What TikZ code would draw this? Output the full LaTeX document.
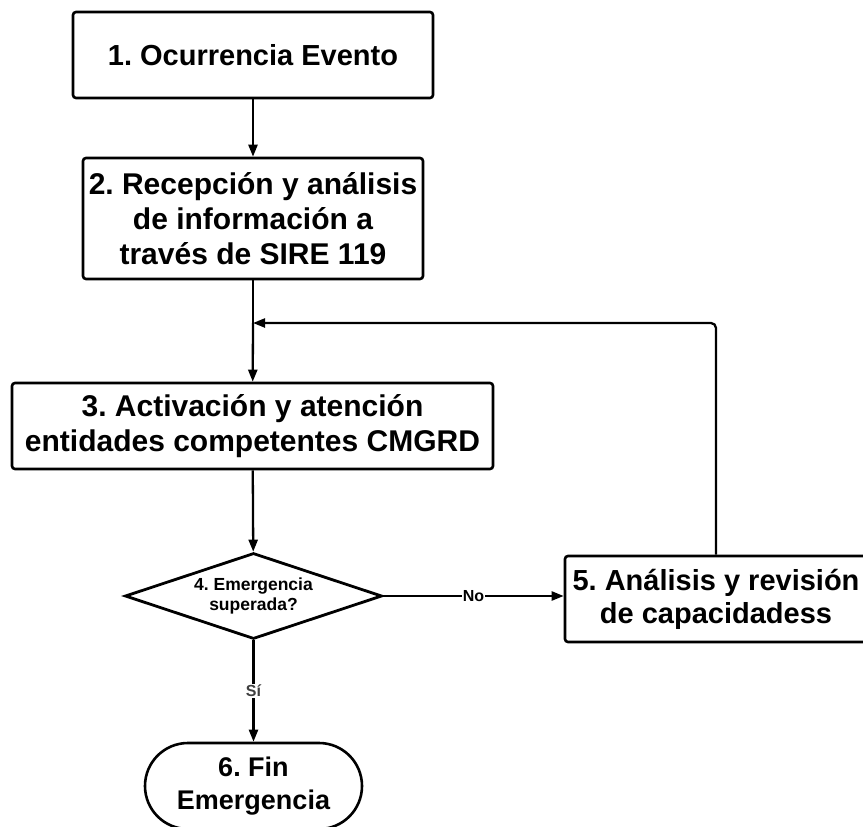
\documentclass[tikz,border=0pt]{standalone}
\usepackage{fontspec}
\setmainfont{Liberation Sans}
\usetikzlibrary{arrows.meta}
\usetikzlibrary{shapes.geometric}
\usetikzlibrary{shapes.misc}
\frenchspacing
\newcommand{\boxtxt}{\fontsize{30}{35}\selectfont\bfseries}
\newcommand{\midtxt}{\fontsize{29}{33}\selectfont\bfseries}
\newcommand{\fintxt}{\fontsize{27}{33}\selectfont\bfseries}
\newcommand{\asktxt}{\fontsize{17.5}{20}\selectfont\bfseries}
\newcommand{\lbltxt}{\fontsize{16}{18}\selectfont\bfseries}
\tikzstyle{proc} = [draw=black, line width=2.6pt, rounded corners=3pt, align=center, inner sep=0pt, font=\boxtxt]
\tikzstyle{decision} = [draw=black, diamond, aspect=3, line width=2.8pt, align=center, inner sep=0pt, font=\asktxt]
\tikzstyle{terminal} = [draw=black, rounded rectangle, line width=2.6pt, align=center, inner sep=0pt, font=\fintxt]
\tikzstyle{flow} = [line width=2.3pt, -{Triangle[length=12pt,width=9pt]}]
\tikzstyle{lbl} = [fill=white, inner sep=1pt, font=\lbltxt]

\begin{document}
\begin{tikzpicture}[x=1pt, y=-1pt]

		\useasboundingbox (0,0) rectangle (863,827);

		\node (ocu) [proc, font=\midtxt, minimum width=360, minimum height=86] at (253,55) {1. Ocurrencia Evento};

		\node (rec) [proc, minimum width=340, minimum height=121] at (253,218.5) {2. Recepción y análisis\\de información a\\través de SIRE 119};

		\node (act) [proc, minimum width=481, minimum height=86] at (252.5,426) {3. Activación y atención\\entidades competentes CMGRD};

		\node (dec) [decision, minimum width=257, minimum height=86] at (253.5,596) {4. Emergencia\\superada?};

		\node (rev) [proc, font=\midtxt, minimum width=302, minimum height=86] at (716,599) {5. Análisis y revisión\\de capacidadess};

		\node (fin) [terminal, minimum width=217, minimum height=86] at (253.5,786) {6. Fin\\Emergencia};

		\coordinate (loopin) at (253,323);

		\draw [flow] (ocu) -- (rec);
		\draw [line width=2.3pt] (rec) -- (loopin);
		\draw [flow] (loopin) -- (act);
		\draw [flow, rounded corners=5pt] (rev.north) |- (loopin);
		\draw [flow] (act) -- (dec);
		\draw [flow] (dec.east) -- node [lbl] {No} (dec.east -| rev.west);
		\draw [flow] (dec) -- node [lbl, text=black!75] {Sí} (fin);

	\end{tikzpicture}
\end{document}
